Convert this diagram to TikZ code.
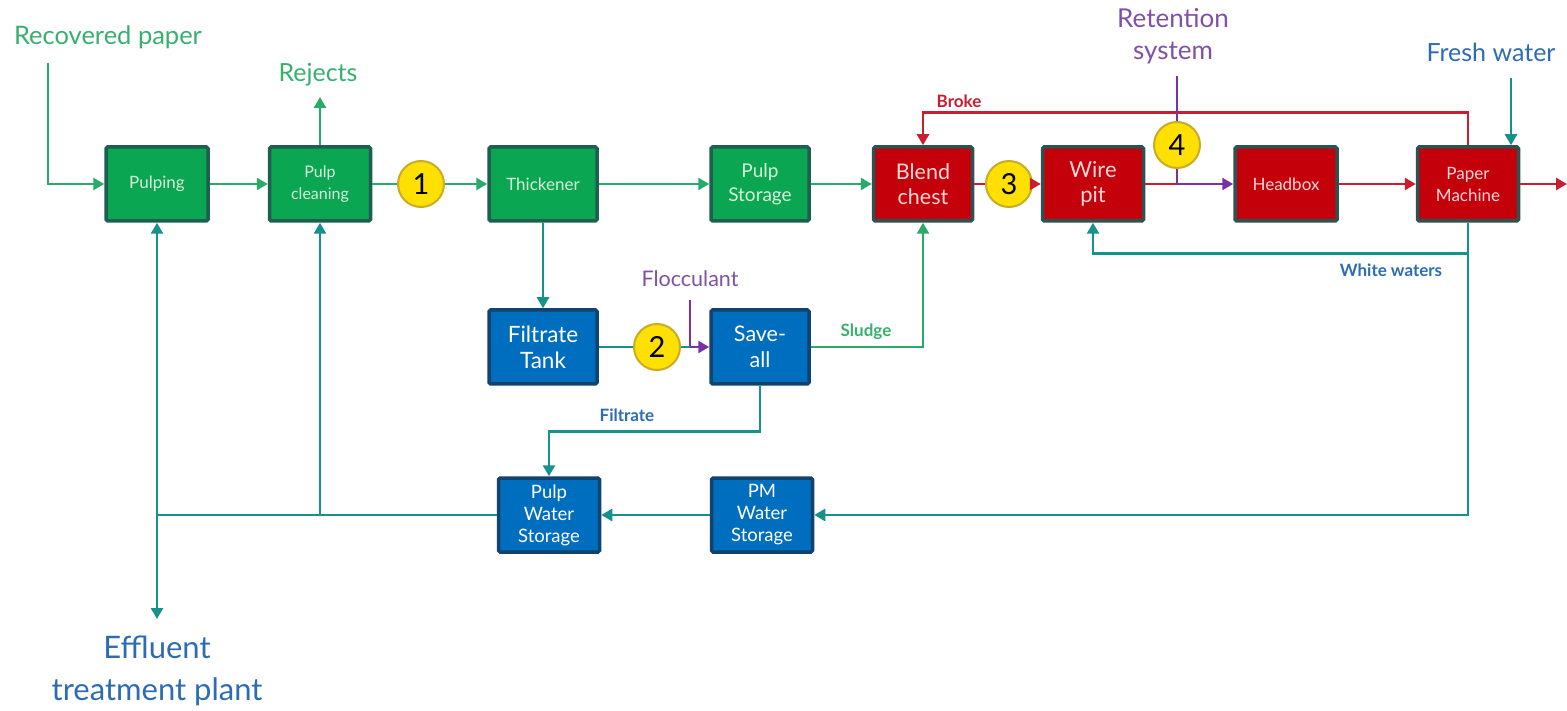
\documentclass[tikz,border=0pt]{standalone}
\usepackage{fontspec}
\setmainfont{Lato}
\usetikzlibrary{arrows.meta}
\definecolor{gfill}{RGB}{10,166,82}
\definecolor{gbord}{RGB}{30,95,82}
\definecolor{gtext}{RGB}{215,240,220}
\definecolor{rfill}{RGB}{196,0,10}
\definecolor{rbord}{RGB}{45,82,82}
\definecolor{rtext}{RGB}{248,215,215}
\definecolor{bfill}{RGB}{0,110,190}
\definecolor{bbord}{RGB}{18,66,110}
\definecolor{gline}{RGB}{40,170,105}
\definecolor{tline}{RGB}{22,145,140}
\definecolor{rline}{RGB}{200,30,50}
\definecolor{pline}{RGB}{120,50,165}
\definecolor{ptext}{RGB}{128,80,165}
\definecolor{btext}{RGB}{45,108,178}
\definecolor{gtxt}{RGB}{55,176,110}
\definecolor{ycirc}{RGB}{255,224,0}
\definecolor{ybord}{RGB}{200,172,40}
\begin{document}
\begin{tikzpicture}[x=1pt,y=-1pt,
  bx/.style={rectangle, line width=3.5pt, inner sep=0pt, align=center, rounded corners=1.5pt},
  boxg/.style={bx, fill=gfill, draw=gbord, text=gtext},
  boxr/.style={bx, fill=rfill, draw=rbord, text=rtext},
  boxb/.style={bx, fill=bfill, draw=bbord, text=white},
  circ/.style={circle, fill=ycirc, draw=ybord, line width=2pt, minimum size=46pt, inner sep=0pt, font=\fontsize{29}{29}\selectfont},
  ln/.style={line width=2.6pt},
  ar/.style={ln, -{Triangle[length=11pt,width=12pt]}},
  lbl/.style={inner sep=0pt, align=center},
  small/.style={lbl, font=\bfseries\fontsize{17}{20}\selectfont}
]
\useasboundingbox (0,0) rectangle (1567,711);
% boxes
\node[boxg, minimum width=102pt, minimum height=74pt, font=\fontsize{17}{20}\selectfont] (pulping) at (157,184) {Pulping};
\node[boxg, minimum width=101pt, minimum height=74pt, font=\fontsize{16}{22}\selectfont] (pclean) at (320,184) {Pulp\\cleaning};
\node[boxg, minimum width=108pt, minimum height=74pt, font=\fontsize{17}{20}\selectfont] (thick) at (543,184) {Thickener};
\node[boxg, minimum width=98pt, minimum height=74pt, font=\fontsize{19}{24}\selectfont] (pstor) at (760,184) {Pulp\\Storage};
\node[boxr, minimum width=99pt, minimum height=74pt, font=\fontsize{21.5}{25}\selectfont] (blend) at (923,184) {Blend\\chest};
\node[boxr, minimum width=101pt, minimum height=74pt, font=\fontsize{22}{25}\selectfont] (wire) at (1093,184) {Wire\\pit};
\node[boxr, minimum width=102pt, minimum height=74pt, font=\fontsize{17}{20}\selectfont] (headbox) at (1286,184) {Headbox};
\node[boxr, minimum width=101pt, minimum height=74pt, font=\fontsize{17}{22}\selectfont] (pm) at (1468,184) {Paper\\Machine};
\node[boxb, minimum width=108pt, minimum height=74pt, font=\fontsize{22.5}{26}\selectfont] (ftank) at (543,347) {Filtrate\\Tank};
\node[boxb, minimum width=98pt, minimum height=74pt, font=\fontsize{21.5}{26}\selectfont] (saveall) at (760,347) {Save-\\all};
\node[boxb, minimum width=101pt, minimum height=74pt, font=\fontsize{18.5}{22}\selectfont] (pws) at (549,515) {Pulp\\Water\\Storage};
\node[boxb, minimum width=101pt, minimum height=74pt, font=\fontsize{18.5}{22}\selectfont] (pmws) at (762,515) {PM\\Water\\Storage};
% circles
\node[circ] (c1) at (421,184) {1};
\node[circ] (c2) at (657,347) {2};
\node[circ] (c3) at (1009,184) {3};
\node[circ] (c4) at (1177,145) {4};
% labels
\node[lbl, text=gtxt, font=\fontsize{25.5}{30}\selectfont] (lrp) at (108,37) {Recovered paper};
\node[lbl, text=gtxt, font=\fontsize{25}{30}\selectfont] (lrej) at (318,75) {Rejects};
\node[small, text=rline] (lbroke) at (959,101) {Broke};
\node[lbl, text=ptext, font=\fontsize{26}{32}\selectfont] (lret) at (1173,36) {Retention\\system};
\node[lbl, text=btext, font=\fontsize{25}{30}\selectfont] (lfw) at (1491,52) {Fresh water};
\node[small, text=btext] (lww) at (1391,270) {White waters};
\node[lbl, text=ptext, font=\fontsize{21.5}{26}\selectfont] (lfl) at (690,279) {Flocculant};
\node[small, text=gtxt] (lsl) at (866,332) {Sludge};
\node[small, text=btext] (lfi) at (627,415) {Filtrate};
\node[lbl, text=btext, font=\fontsize{31}{42}\selectfont] (leff) at (157,671) {Effluent\\treatment plant};
% coordinates
\coordinate (rp) at (48,63);
\coordinate (rejtip) at (320,97);
\coordinate (rt) at (1177,76);
\coordinate (rj) at (1177,184);
\coordinate (fw) at (1511,78);
\coordinate (out) at (1567,184);
\coordinate (fl) at (690,300);
\coordinate (flj) at (690,347);
\coordinate (j1) at (157,515);
\coordinate (efftip) at (157,619);
% green flows
\draw[ar, gline] (rp) |- (pulping.west);
\draw[ar, gline] (pulping) -- (pclean);
\draw[ar, gline] (pclean.north) -- (rejtip);
\draw[ln, gline] (pclean) -- (c1);
\draw[ar, gline] (c1) -- (thick);
\draw[ar, gline] (thick) -- (pstor);
\draw[ar, gline] (pstor) -- (blend);
\draw[ar, gline] (saveall.east) -| (blend.south);
% red flows
\draw[ln, rline] (blend) -- (c3);
\draw[ar, rline] (c3) -- (wire);
\draw[ln, rline] (wire.east) -- (rj);
\draw[ar, rline] (headbox) -- (pm);
\draw[ar, rline] (pm.east) -- (out);
\draw[ar, rline] (pm.north) -- ++(0,-33) -| (blend.north);
% purple
\draw[ln, pline] (rt) -- (c4.north);
\draw[ln, pline] (c4.south) -- (rj);
\draw[ar, pline] (rj) -- (headbox.west);
\draw[ln, pline] (fl) -- (flj);
\draw[ar, pline] (flj) -- (saveall.west);
% teal water flows
\draw[ar, tline] (fw) -- (fw |- pm.north);
\draw[ar, tline] (pm.south) -- ++(0,31) -| (wire.south);
\draw[ar, tline] (pm.south) |- (pmws.east);
\draw[ar, tline] (pmws) -- (pws);
\draw[ln, tline] (pws.west) -- (j1);
\draw[ar, tline] (j1) -- (pulping.south);
\draw[ar, tline] (pclean.south |- pws.west) -- (pclean.south);
\draw[ar, tline] (j1) -- (efftip);
\draw[ar, tline] (thick.south) -- (ftank.north);
\draw[ln, tline] (ftank) -- (c2);
\draw[ln, tline] (c2) -- (flj);
\draw[ar, tline] (saveall.south) -- ++(0,46) -| (pws.north);
\end{tikzpicture}
\end{document}
